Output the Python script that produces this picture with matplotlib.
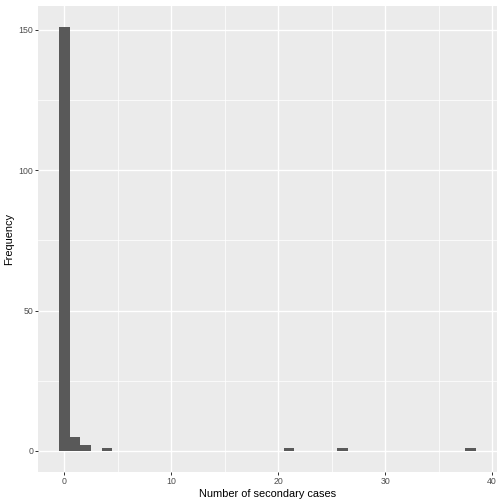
import numpy as np
import matplotlib.pyplot as plt

plt.rcParams['font.family'] = ['Liberation Sans', 'DejaVu Sans']

# Histogram of secondary cases (binwidth 1, centred on integers)
cases = [0, 1, 2, 4, 21, 26, 38]
freq = [151, 5, 2, 1, 1, 1, 1]

x_ticks = [0, 10, 20, 30, 40]
y_ticks = [0, 50, 100, 150]

fig = plt.figure(figsize=(7, 7), dpi=72)
ax = fig.add_axes([38/504, 32/504, 459/504, 466/504])
ax.set_facecolor('#EBEBEB')

ax.bar(cases, freq, width=1, color='#595959', zorder=3)

ax.set_xlim(-0.5 - 1.95, 38.5 + 1.95)
ax.set_ylim(-151 * 0.05, 151 * 1.05)
ax.set_xticks(x_ticks)
ax.set_yticks(y_ticks)
ax.set_xticks([5, 15, 25, 35], minor=True)
ax.set_yticks([25, 75, 125], minor=True)
ax.grid(which='major', color='white', linewidth=1.4, zorder=0)
ax.grid(which='minor', color='white', linewidth=0.7, zorder=0)
ax.tick_params(which='minor', length=0)
ax.tick_params(which='major', length=2.75, width=1, color='#333333',
               labelsize=8.8, labelcolor='#4D4D4D', pad=2)
for s in ax.spines.values():
    s.set_visible(False)

ax.set_xlabel('Number of secondary cases', fontsize=11, color='black', labelpad=3)
ax.set_ylabel('Frequency', fontsize=11, color='black', labelpad=4)

fig.savefig('out.png', dpi=72)
